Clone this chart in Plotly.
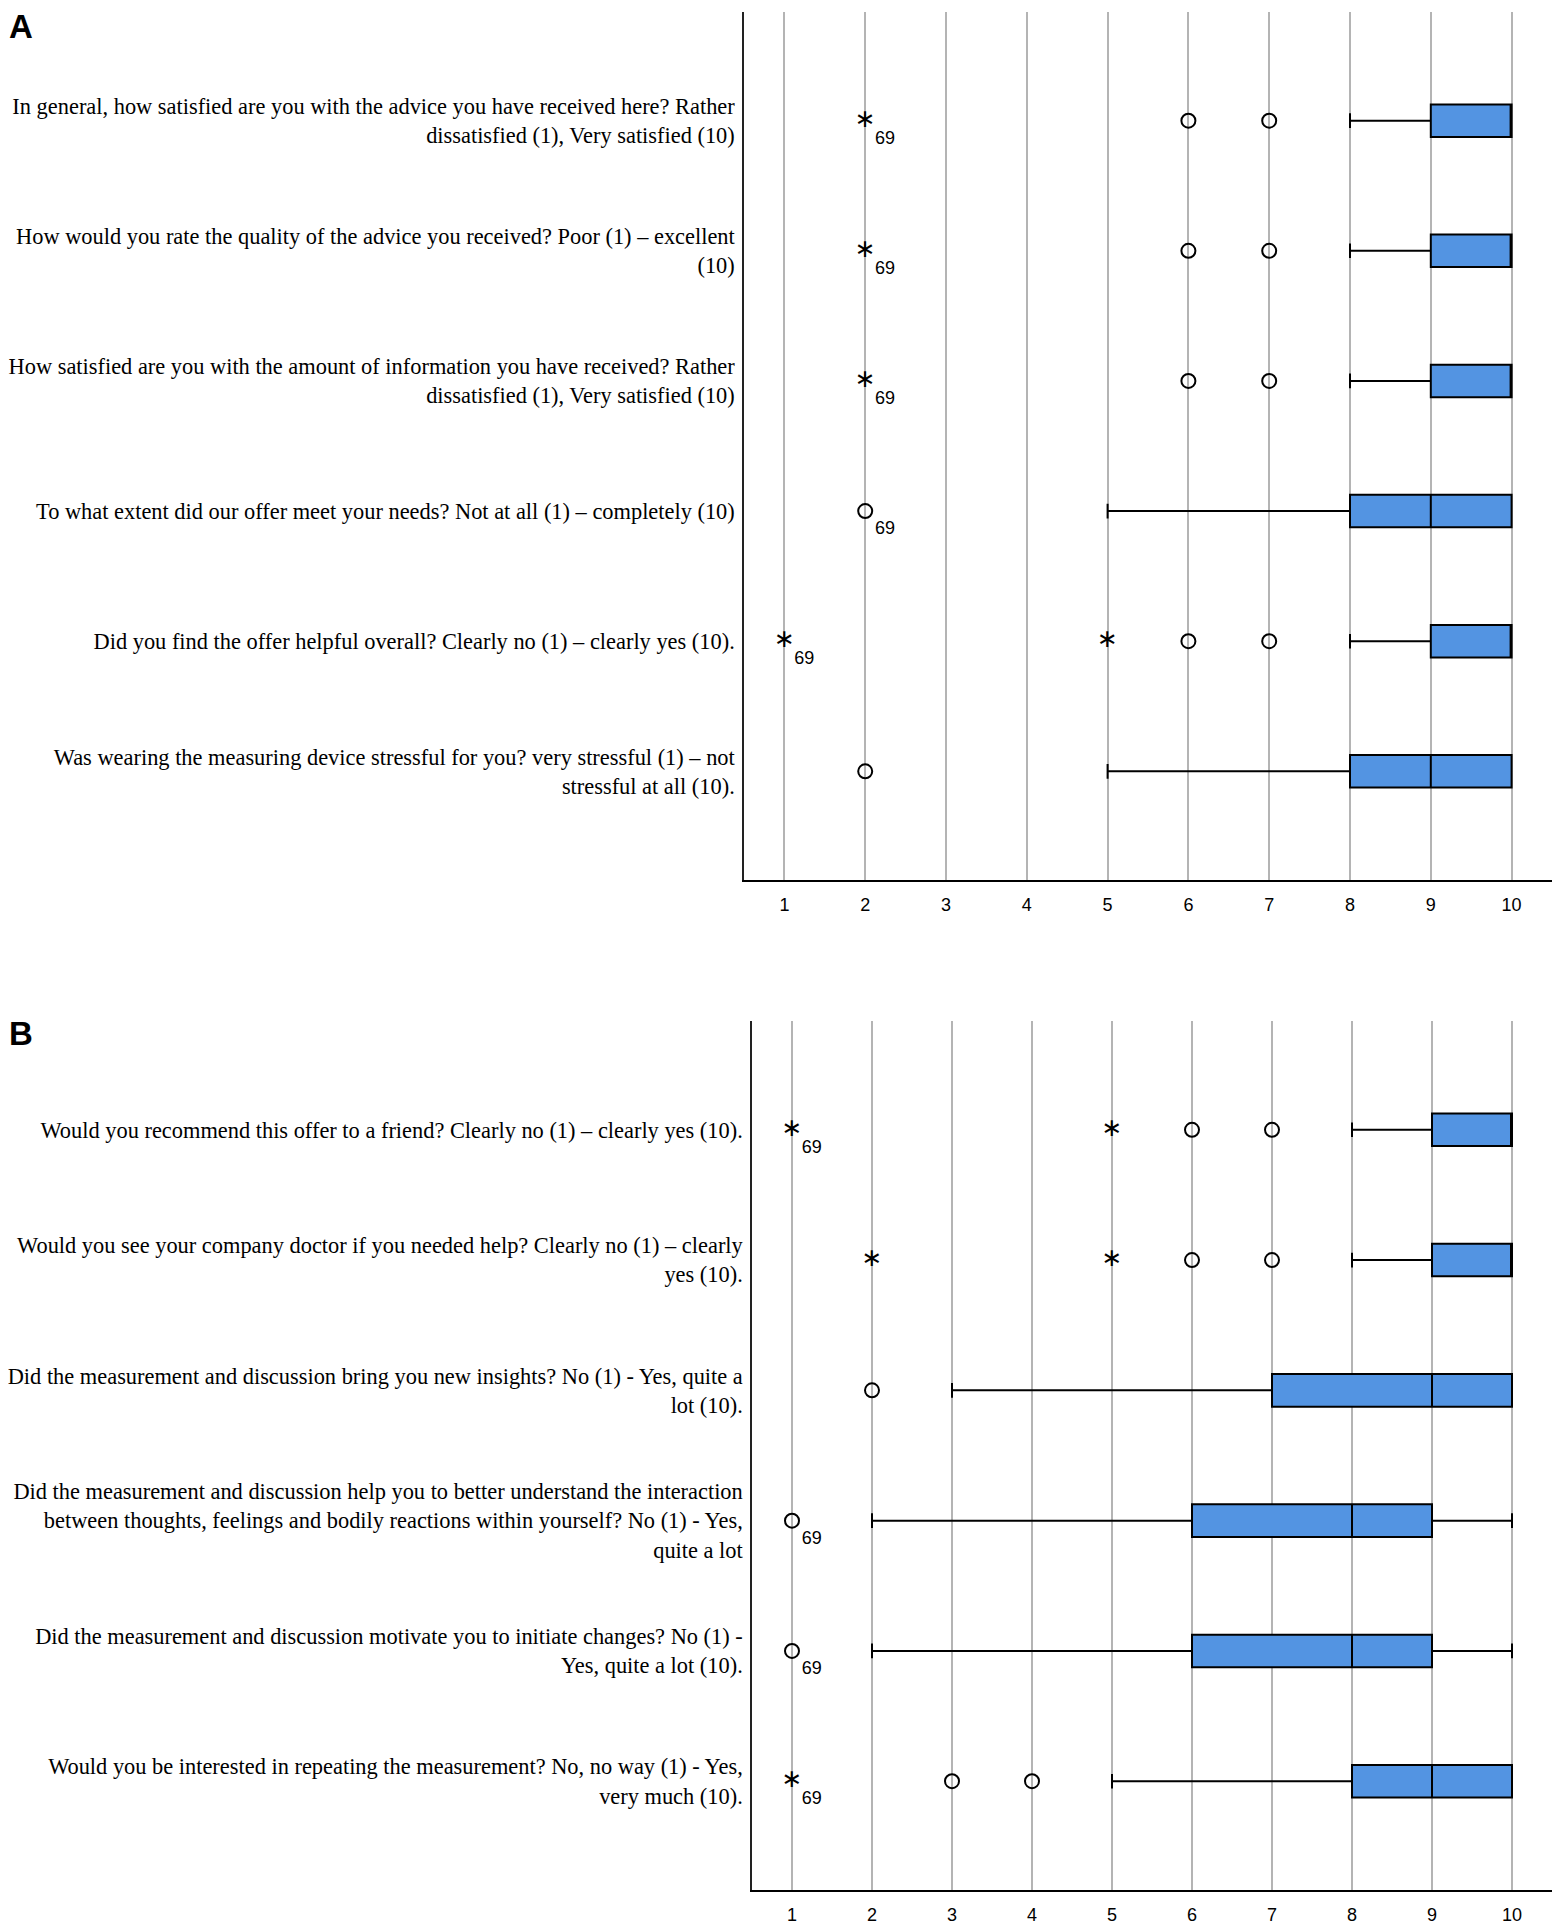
import plotly.graph_objects as go

# ---------------- data ----------------
tick_vals = [1, 2, 3, 4, 5, 6, 7, 8, 9, 10]
tick_text = ["1", "2", "3", "4", "5", "6", "7", "8", "9", "10"]

a_labels = [
    "In general, how satisfied are you with the advice you have received here? Rather<br>dissatisfied (1), Very satisfied (10)",
    "How would you rate the quality of the advice you received? Poor (1) – excellent<br>(10)",
    "How satisfied are you with the amount of information you have received? Rather<br>dissatisfied (1), Very satisfied (10)",
    "To what extent did our offer meet your needs? Not at all (1) – completely (10)",
    "Did you find the offer helpful overall? Clearly no (1) – clearly yes (10).",
    "Was wearing the measuring device stressful for you? very stressful (1) – not<br>stressful at all (10).",
]
a_lower = [8, 8, 8, 5, 8, 5]
a_q1 = [9, 9, 9, 8, 9, 8]
a_median = [10, 10, 10, 9, 10, 9]
a_q3 = [10, 10, 10, 10, 10, 10]
a_upper = [10, 10, 10, 10, 10, 10]
a_circle_row = [0, 0, 1, 1, 2, 2, 3, 4, 4, 5]
a_circle_val = [6, 7, 6, 7, 6, 7, 2, 6, 7, 2]
a_star_row = [0, 1, 2, 4, 4]
a_star_val = [2, 2, 2, 1, 5]
a_id_row = [0, 1, 2, 3, 4]
a_id_val = [2, 2, 2, 2, 1]
a_id_text = ["69", "69", "69", "69", "69"]

b_labels = [
    "Would you recommend this offer to a friend? Clearly no (1) – clearly yes (10).",
    "Would you see your company doctor if you needed help? Clearly no (1) – clearly<br>yes (10).",
    "Did the measurement and discussion bring you new insights? No (1) - Yes, quite a<br>lot (10).",
    "Did the measurement and discussion help you to better understand the interaction<br>between thoughts, feelings and bodily reactions within yourself? No (1) - Yes,<br>quite a lot",
    "Did the measurement and discussion motivate you to initiate changes? No (1) -<br>Yes, quite a lot (10).",
    "Would you be interested in repeating the measurement? No, no way (1) - Yes,<br>very much (10).",
]
b_lower = [8, 8, 3, 2, 2, 5]
b_q1 = [9, 9, 7, 6, 6, 8]
b_median = [10, 10, 9, 8, 8, 9]
b_q3 = [10, 10, 10, 9, 9, 10]
b_upper = [10, 10, 10, 10, 10, 10]
b_circle_row = [0, 0, 1, 1, 2, 3, 4, 5, 5]
b_circle_val = [6, 7, 6, 7, 2, 1, 1, 3, 4]
b_star_row = [0, 0, 1, 1, 5]
b_star_val = [1, 5, 2, 5, 1]
b_id_row = [0, 3, 4, 5]
b_id_val = [1, 1, 1, 1]
b_id_text = ["69", "69", "69", "69"]

# ---------------- style ----------------
OFF = 8                      # default page margin of the html body
W, H = 1566 - 2 * OFF, 1932 - 2 * OFF
BOX_FILL = "#5394e2"
GRID = "#b4b4b4"
SERIF = "Liberation Serif, Times New Roman, serif"
SANS = "Liberation Sans, Arial, sans-serif"


def px_x(p):
    return (p - OFF) / W


def px_y(p):
    return 1 - (p - OFF) / H


fig = go.Figure()


def add_panel(labels, lower, q1, med, q3, upper, crow, cval, srow, sval,
              irow, ival, itext, xa, ya):
    fig.add_trace(go.Box(
        y=labels, q1=q1, median=med, q3=q3, lowerfence=lower, upperfence=upper,
        orientation="h", width=0.25, whiskerwidth=0.45,
        fillcolor=BOX_FILL, line=dict(color="black", width=2),
        boxpoints=False, xaxis=xa, yaxis=ya, showlegend=False, hoverinfo="skip"))
    fig.add_trace(go.Scatter(
        x=cval, y=[labels[r] for r in crow], mode="markers",
        marker=dict(symbol="circle-open", size=14, color="black",
                    line=dict(width=2, color="black")),
        xaxis=xa, yaxis=ya, showlegend=False, hoverinfo="skip"))
    fig.add_trace(go.Scatter(
        x=sval, y=[labels[r] for r in srow], mode="text",
        text=["∗"] * len(sval), textposition="middle center",
        textfont=dict(family="DejaVu Sans", size=25, color="black"),
        xaxis=xa, yaxis=ya, showlegend=False, hoverinfo="skip"))
    fig.add_trace(go.Scatter(
        x=ival, y=[labels[r] for r in irow], mode="markers+text",
        text=itext, textposition="bottom right",
        marker=dict(size=14, color="rgba(0,0,0,0)"),
        textfont=dict(family=SANS, size=18, color="black"),
        xaxis=xa, yaxis=ya, showlegend=False, hoverinfo="skip"))


add_panel(a_labels, a_lower, a_q1, a_median, a_q3, a_upper,
          a_circle_row, a_circle_val, a_star_row, a_star_val,
          a_id_row, a_id_val, a_id_text, "x", "y")
add_panel(b_labels, b_lower, b_q1, b_median, b_q3, b_upper,
          b_circle_row, b_circle_val, b_star_row, b_star_val,
          b_id_row, b_id_val, b_id_text, "x2", "y2")

xcommon = dict(range=[0.5, 10.5], tickmode="array", tickvals=tick_vals,
               ticktext=tick_text, showgrid=True, gridcolor=GRID, gridwidth=1.5,
               zeroline=False, showline=True, linecolor="black", linewidth=1.5,
               ticks="", ticklabelstandoff=8,
               tickfont=dict(family=SANS, size=18, color="black"),
               fixedrange=True)
ycommon = dict(range=[5.835, -0.835], showgrid=False, zeroline=False,
               showline=True, linecolor="#222222", linewidth=1.5, ticks="",
               ticklabelstandoff=3,
               tickfont=dict(family=SERIF, size=22.4, color="black"),
               fixedrange=True)

fig.update_layout(
    width=W, height=H,
    margin=dict(l=0, r=0, t=0, b=0),
    paper_bgcolor="white", plot_bgcolor="white",
    boxmode="overlay",
    xaxis=dict(domain=[px_x(744), px_x(1552)], anchor="y", **xcommon),
    yaxis=dict(domain=[px_y(880), px_y(12)], anchor="x",
               categoryorder="array", categoryarray=a_labels, **ycommon),
    xaxis2=dict(domain=[px_x(752), px_x(1552)], anchor="y2", **xcommon),
    yaxis2=dict(domain=[px_y(1890), px_y(1021)], anchor="x2",
                categoryorder="array", categoryarray=b_labels, **ycommon),
    annotations=[
        dict(text="<b>A</b>", x=px_x(7), y=px_y(26), xref="paper", yref="paper",
             xanchor="left", yanchor="middle", showarrow=False,
             font=dict(family=SANS, size=33, color="black")),
        dict(text="<b>B</b>", x=px_x(7), y=px_y(1033), xref="paper", yref="paper",
             xanchor="left", yanchor="middle", showarrow=False,
             font=dict(family=SANS, size=33, color="black")),
    ],
)

fig.write_html("out.html")
